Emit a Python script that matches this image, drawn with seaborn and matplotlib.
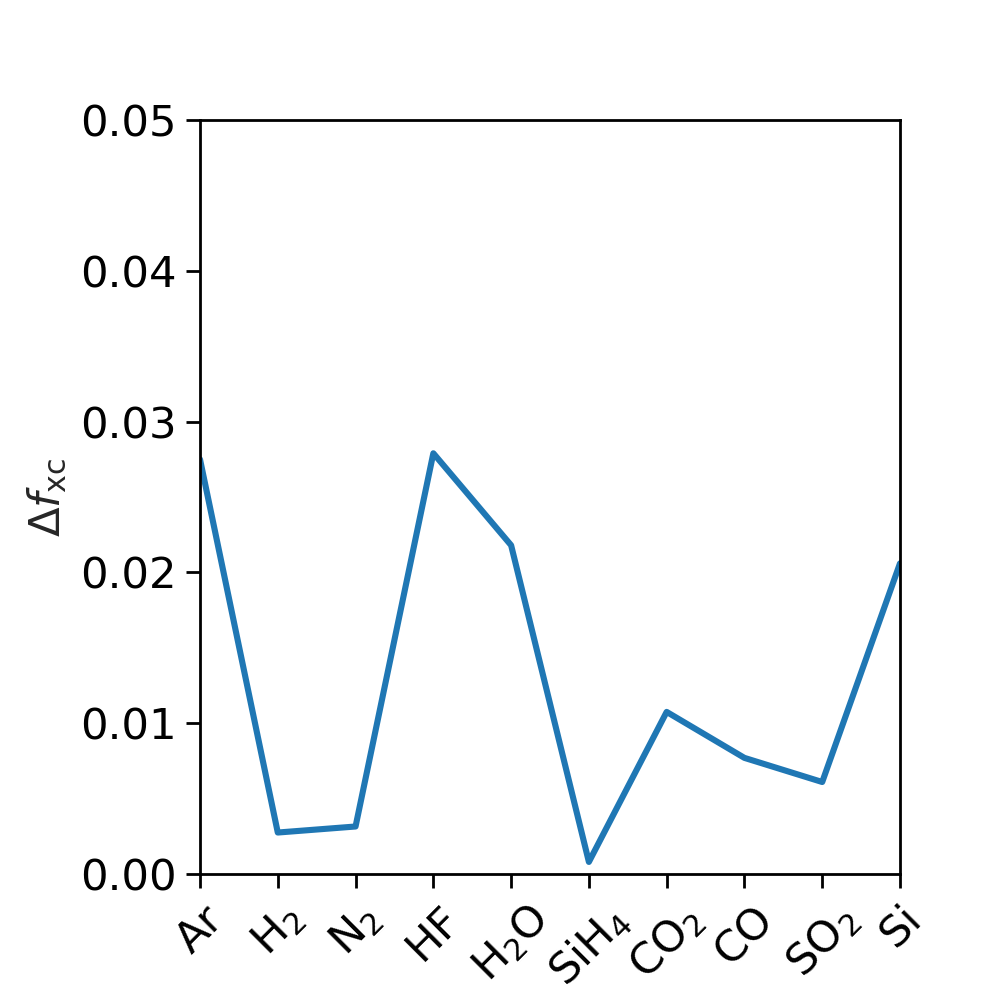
import numpy as np
import pandas as pd
import seaborn as sns
import matplotlib
matplotlib.use('Agg')
import matplotlib.pyplot as plt

# molecules and the xc-functional error
molecules = ['Ar', 'H2', 'N2', 'HF', 'H2O', 'SiH4', 'CO2', 'CO', 'SO2', 'Si']
tick_labels = ['Ar', r'$\mathregular{H_2}$', r'$\mathregular{N_2}$', 'HF',
               r'$\mathregular{H_2O}$', r'$\mathregular{SiH_4}$',
               r'$\mathregular{CO_2}$', 'CO', r'$\mathregular{SO_2}$', 'Si']
delta_fxc = [0.0275, 0.00275, 0.00315, 0.0279, 0.0218, 0.0008,
             0.01075, 0.0077, 0.0061, 0.0206]

sns.set_style('ticks')
plt.rcParams['font.family'] = ['DejaVu Sans']

df = pd.DataFrame({'pos': np.arange(len(molecules)), 'dfxc': delta_fxc})

f, ax = plt.subplots(figsize=(5, 5), dpi=200)
sns.lineplot(x='pos', y='dfxc', data=df, ax=ax, color='#1f77b4', linewidth=2.2)

ax.set_xlim(0, len(molecules) - 1)
ax.set_ylim(0, 0.05)
ax.set_yticks([0, 0.01, 0.02, 0.03, 0.04, 0.05])
ax.set_yticklabels(['0.00', '0.01', '0.02', '0.03', '0.04', '0.05'], fontsize=15.6)
ax.set_xticks(df['pos'])
ax.set_xticklabels(tick_labels, rotation=45, fontsize=15.6)
ax.set_xlabel('')
ax.set_ylabel(r'$\Delta f_{\rm xc}$', fontsize=15.6)
for s in ax.spines.values():
    s.set_linewidth(1.0)
    s.set_color('black')
ax.tick_params(colors='black', width=1.0, length=5)

plt.subplots_adjust(left=0.2, right=0.9, top=0.88, bottom=0.126)
plt.savefig('out.png', dpi=200)
